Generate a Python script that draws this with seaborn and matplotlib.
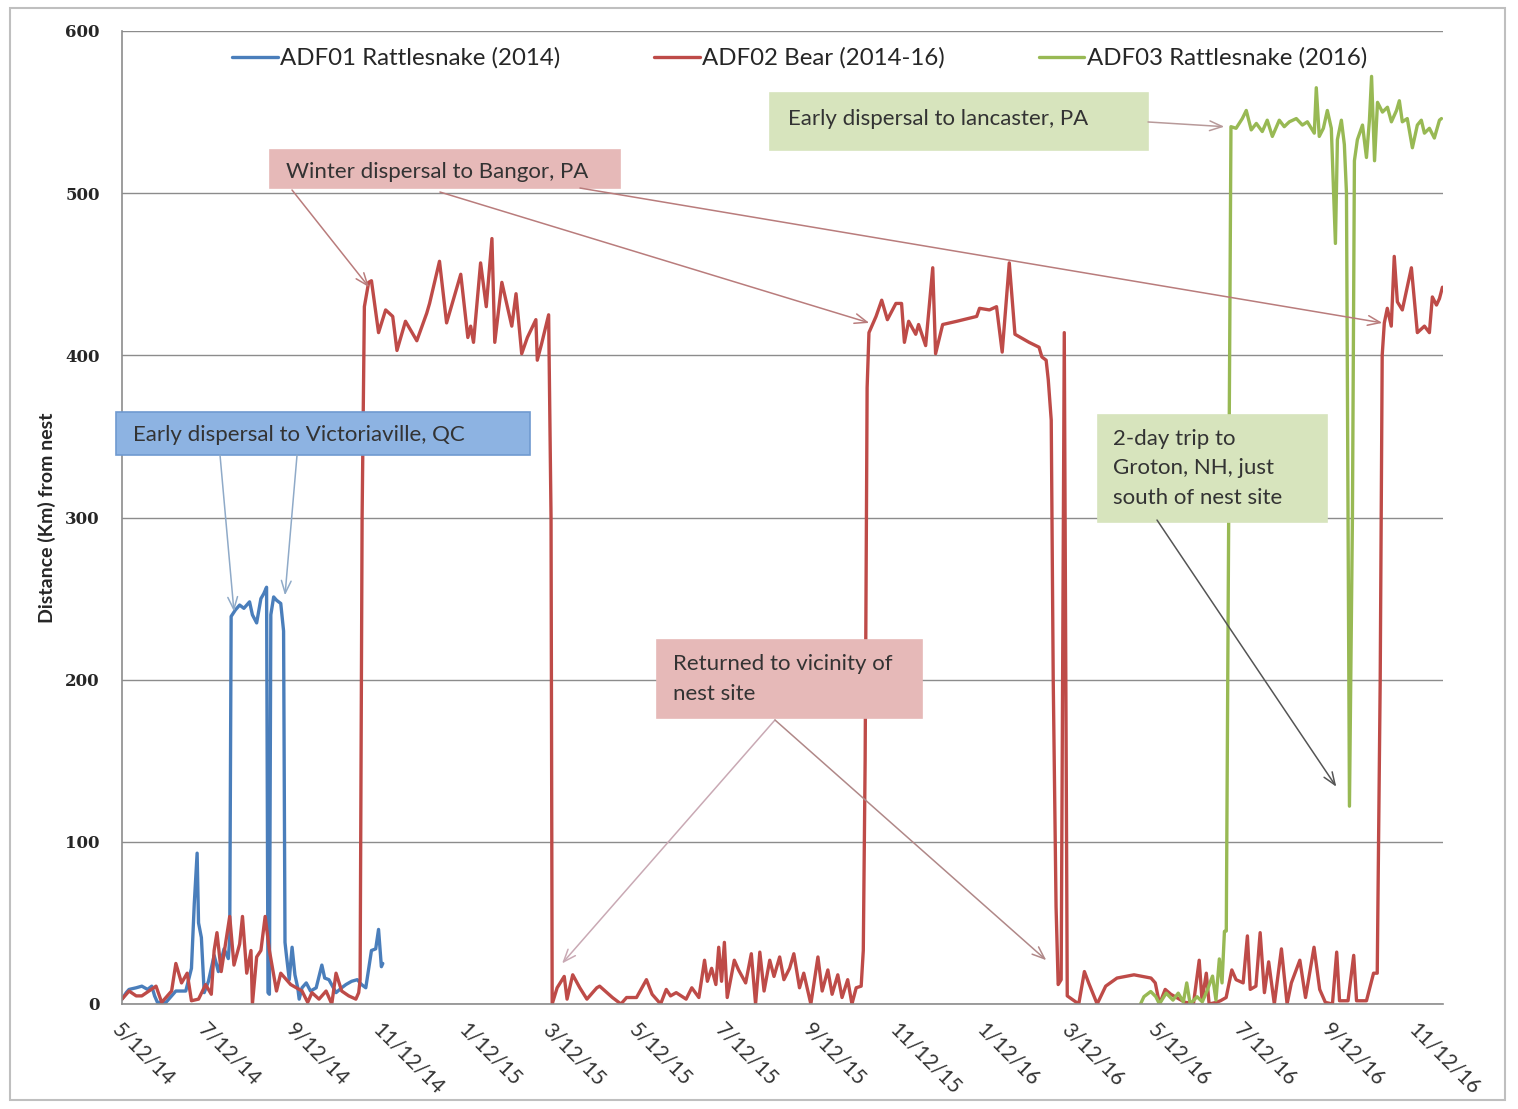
import pandas as pd
import numpy as np
import seaborn as sns
import matplotlib.pyplot as plt
import matplotlib.dates as mdates
from matplotlib.patches import Rectangle
from matplotlib.ticker import FuncFormatter

# days after 5/12/14 and distance (km) from nest
start = pd.Timestamp('2014-05-12')

adf01_day = [0, 3, 5, 10, 14, 18, 21, 23, 25, 31, 35, 38, 45, 47, 49, 51, 53, 54, 56, 58,
             61, 65, 68, 72, 75, 76, 77, 80, 83, 86, 90, 92, 95, 98, 100, 102, 103, 104, 105,
             107, 109, 112, 114, 115, 116, 118, 120, 122, 124, 125, 127, 130, 133, 137, 141,
             143, 146, 151, 155, 158, 162, 166, 169, 172, 176, 179, 181, 183, 184]
adf01_km = [3, 7, 9, 10, 11, 9, 11, 5, 1, 1, 5, 8, 8, 15, 22, 62, 93, 50, 41, 7,
            14, 30, 20, 34, 28, 40, 239, 243, 246, 244, 248, 240, 235, 250, 253, 257, 7, 6, 240,
            251, 249, 247, 230, 38, 30, 15, 35, 18, 10, 3, 10, 13, 8, 10, 24,
            16, 15, 7, 10, 12, 14, 15, 12, 10, 33, 34, 46, 23, 25]

adf02_day = [0, 5, 10, 14, 19, 24, 28, 35, 38, 42, 46, 49, 54, 59, 63, 65, 67, 70, 73, 76,
             79, 83, 85, 88, 91, 92, 95, 98, 101, 104, 106, 109, 112, 116, 119, 123, 127, 131,
             134, 139, 144, 148, 151, 155, 160, 165, 167,
             168, 169.4, 171, 174, 176, 181, 186, 191, 194, 200, 208, 215, 217, 224, 229, 239,
             244, 246, 248, 253, 257, 261, 263, 268, 275, 278, 282, 286, 292, 293, 296, 301,
             302.7, 303.5,
             307, 312, 314, 318, 323, 328, 335, 337, 346, 352, 356, 363, 370, 374, 380, 384,
             387, 391, 398, 402, 407, 411, 413, 416, 419, 421, 423, 425, 427, 432, 435, 440,
             444, 447, 450, 453, 457, 460, 464, 467, 471, 474, 478, 481, 486, 491, 494, 498,
             501, 505, 508, 512, 515, 518, 521.5, 523, 524.3, 525.7,
             527, 532, 536, 540, 546, 550, 552, 555, 560, 562, 567, 572, 574, 579, 589, 603,
             605, 612, 617, 621, 626, 630, 640, 647, 649, 652, 653.5, 655.6, 657, 659, 660.5,
             662.6, 664.8, 666.9,
             675, 679, 682, 688, 694, 702, 714, 726, 729, 732, 736, 740, 744, 750, 756, 760,
             762, 765, 767, 772, 775, 779, 783, 786, 791, 794, 796, 800, 803, 806, 809, 813,
             818, 822, 825, 831, 835, 841, 845, 849, 854, 857, 859, 865, 869, 871, 878, 883,
             885.6, 887.7, 889.1, 890.6, 892.7, 895.5, 897.6, 899.8, 903.3, 909.7, 913.9, 918.9,
             922.4, 924.5, 927.4, 929.5, 931.6]
adf02_km = [3, 8, 5, 5, 8, 11, 1, 8, 25, 13, 19, 2, 3, 12, 6, 33, 44, 20, 37, 54,
            24, 37, 54, 19, 33, 0, 29, 33, 54, 33, 23, 8, 19, 15, 12, 10, 8, 1,
            7, 3, 8, 0, 19, 8, 5, 3, 7,
            15, 300, 430, 445, 446, 414, 428, 424, 403, 421, 409, 426, 432, 458, 420, 450,
            411, 418, 408, 457, 430, 472, 408, 445, 418, 438, 401, 411, 422, 397, 407, 425,
            300, 0,
            10, 17, 3, 18, 10, 3, 10, 11, 4, 0, 4, 4, 15, 6, 0, 9,
            5, 7, 3, 10, 4, 27, 14, 22, 12, 35, 14, 38, 4, 27, 21, 13,
            31, 0, 32, 8, 27, 17, 29, 15, 22, 31, 10, 19, 0, 29, 8, 21,
            6, 18, 4, 15, 0, 10, 11, 33, 150, 380,
            414, 424, 434, 422, 432, 432, 408, 421, 413, 419, 406, 454, 401, 419, 421, 424,
            429, 428, 430, 402, 457, 413, 408, 405, 399, 397, 385, 360, 200, 60, 12,
            15, 414, 5,
            0, 20, 13, 0, 11, 16, 18, 16, 13, 0, 9, 6, 4, 1, 0.5, 27,
            2, 19, 0, 1, 2, 4, 21, 15, 13, 42, 9, 11, 44, 7, 26, 0,
            34, 0, 13, 27, 4, 35, 9, 1, 0, 32, 2, 2, 30, 2, 2, 19,
            19, 200, 400, 420, 429, 418, 461, 433, 428, 454, 414, 418,
            414, 436, 431, 435, 442]

adf03_day = [718.6, 721, 725.8, 729.4, 731.9, 736.7, 741.5, 745.2, 748.8, 751.2, 753.6,
             758.5, 762.2, 765.8, 769.4, 771.8, 774.2, 776.1, 777.8, 779.1, 782.4,
             786, 790.4, 793.2, 796.7, 800.3, 804.5, 808, 811.6, 816.5, 820, 823.6, 828.5,
             832.8, 836.3, 841.2, 842.6, 844.7, 847.6, 850.4, 853.2, 856.1, 857.5, 860.3,
             862.4, 863.9, 866, 868.1, 869.5, 871.6, 875.2, 878, 880.1, 881.6, 883.7, 885.8,
             889.3, 892.8, 895.6, 899.2, 901.2, 903.3, 906.8, 910.4, 913.9, 916.7, 918.9,
             922.4, 925.9, 929.5, 930.9]
adf03_km = [0, 4.5, 7.7, 4.5, 0, 6.7, 2.4, 6.7, 1.3, 13, 0,
            4.5, 1.3, 8.8, 17.2, 2.4, 27.8, 13, 44.8, 45, 541,
            540, 546, 551, 539, 543, 538, 545, 535, 545, 541, 544, 546,
            542, 544, 537, 565, 535, 540, 551, 540, 469, 533, 545,
            530, 500, 122, 300, 520, 533, 542, 522, 545, 572, 520, 556,
            550, 553, 544, 551, 557, 544, 546, 528, 542, 545, 537,
            540, 534, 545, 546]

names = ['ADF01 Rattlesnake (2014)', 'ADF02 Bear (2014-16)', 'ADF03 Rattlesnake (2016)']
colors = ['#4A7EBB', '#BE4B48', '#98B954']

frames = []
for name, d, v in zip(names, [adf01_day, adf02_day, adf03_day], [adf01_km, adf02_km, adf03_km]):
    frames.append(pd.DataFrame({'date': start + pd.to_timedelta(d, unit='D'),
                                'km': v, 'animal': name}))
df = pd.concat(frames, ignore_index=True)

sns.set_style('white')
fig = plt.figure(figsize=(15.18, 11.09), dpi=100)
ax = fig.add_axes([122 / 1518, 1 - 1004 / 1109, 1321 / 1518, 973 / 1109])

sns.lineplot(data=df, x='date', y='km', hue='animal', palette=dict(zip(names, colors)),
             estimator=None, sort=False, linewidth=2.4, ax=ax)

ax.set_ylim(0, 600)
ax.set_yticks(range(0, 601, 100))
ax.set_xlim(start, start + pd.Timedelta(days=932))
ax.xaxis.set_major_locator(mdates.MonthLocator(bymonth=[1, 3, 5, 7, 9, 11], bymonthday=12))
ax.xaxis.set_major_formatter(FuncFormatter(
    lambda x, pos: (lambda d: f'{d.month}/{d.day}/{d.year % 100:02d}')(mdates.num2date(x))))
ax.grid(axis='y', color='#8C8C8C', linewidth=1)
ax.set_axisbelow(True)
for s in ['top', 'right']:
    ax.spines[s].set_visible(False)
for s in ['left', 'bottom']:
    ax.spines[s].set_color('#8C8C8C')
    ax.spines[s].set_linewidth(1.2)
ax.tick_params(axis='both', direction='out', length=5, color='#8C8C8C', width=1)
for lab in ax.get_xticklabels():
    lab.set_rotation(-45)
    lab.set_ha('left')
    lab.set_va('top')
    lab.set_rotation_mode('anchor')
    lab.set_fontsize(15)
    lab.set_family('Lato')
    lab.set_color('#333333')
for lab in ax.get_yticklabels():
    lab.set_fontsize(12)
    lab.set_family('DejaVu Serif')
    lab.set_fontweight('bold')
ax.tick_params(axis='x', pad=6)
ax.tick_params(axis='y', pad=11)
ax.set_xlabel('')
ax.set_ylabel('Distance (Km) from nest', fontsize=14, fontweight='bold', family='Lato')
ax.yaxis.set_label_coords(-0.05, 0.5)

handles, labels = ax.get_legend_handles_labels()
ax.legend(handles, labels, ncol=3, loc='center left', bbox_to_anchor=(0.076, 0.972),
          frameon=False, handlelength=1.9, handletextpad=0.1, borderaxespad=0,
          columnspacing=3.9, prop={'family': 'Lato', 'size': 17.3})

pink = '#E6B9B8'
green = '#D7E4BD'
blue = '#8DB3E2'

def box(x0, y0, x1, y1, fc, ec=None):
    ax.add_patch(Rectangle((x0, y0), x1 - x0, y1 - y0, transform=ax.transAxes,
                           facecolor=fc, edgecolor=ec or fc, linewidth=1.2,
                           clip_on=False, zorder=4))

txt = dict(transform=ax.transAxes, fontsize=16, family='Lato', color='#333333',
           zorder=5, va='center', ha='left')

box(-0.0045, 0.5642, 0.3089, 0.6084, blue, '#6F9AD0')
ax.text(0.0083, 0.5848, 'Early dispersal to Victoriaville, QC', **txt)
box(0.112, 0.8386, 0.377, 0.8777, pink)
ax.text(0.124, 0.8555, 'Winter dispersal to Bangor, PA', **txt)
box(0.4905, 0.8777, 0.7767, 0.9363, green)
ax.text(0.504, 0.9095, 'Early dispersal to lancaster, PA', **txt)
box(0.7388, 0.4954, 0.9122, 0.6054, green)
ax.text(0.750, 0.5913, '2-day trip to\nGroton, NH, just\nsouth of nest site',
        linespacing=1.6, **{**txt, 'va': 'top'})
box(0.405, 0.294, 0.6056, 0.374, pink)
ax.text(0.417, 0.3595, 'Returned to vicinity of\nnest site', linespacing=1.6,
        **{**txt, 'va': 'top'})

def arrow(src, day, km, color):
    ax.annotate('', xy=(start + pd.Timedelta(days=day), km), xycoords='data',
                xytext=src, textcoords='axes fraction',
                arrowprops=dict(arrowstyle='->,head_length=0.9,head_width=0.35',
                                color=color, lw=1.1, shrinkA=0, shrinkB=0), zorder=6)

arrow((0.0742, 0.5642), 79, 242, '#8FAAC8')
arrow((0.1325, 0.5642), 115, 252, '#8FAAC8')
arrow((0.1287, 0.8366), 174.3, 442, '#B97C7C')
arrow((0.2407, 0.8345), 527.2, 420, '#B97C7C')
arrow((0.3467, 0.8386), 889.2, 420, '#B97C7C')
arrow((0.7767, 0.9065), 777.7, 541, '#B89A9A')
arrow((0.7835, 0.4974), 856.7, 134, '#555555')
arrow((0.4943, 0.2919), 310.5, 25, '#C9A9B4')
arrow((0.4943, 0.2919), 652.1, 27, '#B08888')

fig.patches.append(Rectangle((10 / 1518, 9 / 1109), 1495 / 1518, 1092 / 1109,
                             transform=fig.transFigure, fill=False,
                             edgecolor='#BFBFBF', linewidth=1.5))

fig.savefig('out.png', dpi=100)
